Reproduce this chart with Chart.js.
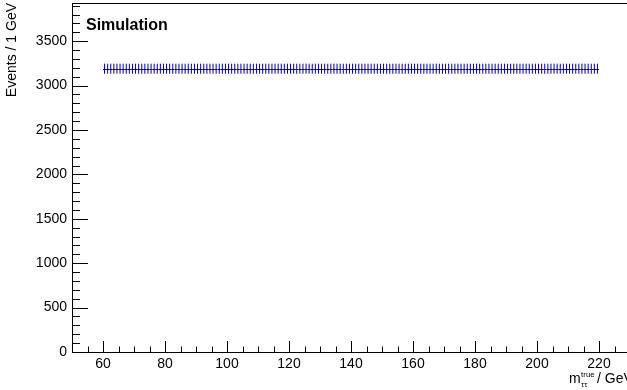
<!DOCTYPE html>
<html>
<head>
<meta charset="utf-8">
<script src="https://cdn.jsdelivr.net/npm/chart.js@4"></script>
<style>
  html, body { margin: 0; padding: 0; background: #fff; overflow: hidden; }
</style>
</head>
<body>
<canvas id="histo" width="640" height="390"></canvas>
<script>
// histogram: 1 GeV bins from 60 to 220 GeV
const binLow = 60;
const binWidth = 1;
const counts = [
  3190, 3190, 3190, 3190, 3190, 3190, 3190, 3190, 3190, 3190, 3190, 3190, 3190, 3190, 3190, 3190, 3190, 3190, 3190, 3190,
  3190, 3190, 3190, 3190, 3190, 3190, 3190, 3190, 3190, 3190, 3190, 3190, 3190, 3190, 3190, 3190, 3190, 3190, 3190, 3190,
  3190, 3190, 3190, 3190, 3190, 3190, 3190, 3190, 3190, 3190, 3190, 3190, 3190, 3190, 3190, 3190, 3190, 3190, 3190, 3190,
  3190, 3190, 3190, 3190, 3190, 3190, 3190, 3190, 3190, 3190, 3190, 3190, 3190, 3190, 3190, 3190, 3190, 3190, 3190, 3190,
  3190, 3190, 3190, 3190, 3190, 3190, 3190, 3190, 3190, 3190, 3190, 3190, 3190, 3190, 3190, 3190, 3190, 3190, 3190, 3190,
  3190, 3190, 3190, 3190, 3190, 3190, 3190, 3190, 3190, 3190, 3190, 3190, 3190, 3190, 3190, 3190, 3190, 3190, 3190, 3190,
  3190, 3190, 3190, 3190, 3190, 3190, 3190, 3190, 3190, 3190, 3190, 3190, 3190, 3190, 3190, 3190, 3190, 3190, 3190, 3190,
  3190, 3190, 3190, 3190, 3190, 3190, 3190, 3190, 3190, 3190, 3190, 3190, 3190, 3190, 3190, 3190, 3190, 3190, 3190, 3190
];
const xTicks = [60, 80, 100, 120, 140, 160, 180, 200, 220];
const yTicks = [0, 500, 1000, 1500, 2000, 2500, 3000, 3500];

const FONT = '"Liberation Sans", Arial, Helvetica, sans-serif';
const markColor = '#000099';

// points at bin centres
const points = counts.map((c, i) => ({ x: binLow + (i + 0.5) * binWidth, y: c }));

// ROOT-like frame, inner ticks, error crosses and labels
const rootStyle = {
  id: 'rootStyle',
  afterDatasetsDraw(chart) {
    const { ctx, chartArea: a, scales: { x, y } } = chart;
    ctx.save();

    // error crosses: horizontal = bin width, vertical = sqrt(N)
    ctx.strokeStyle = markColor;
    ctx.lineWidth = 1;
    ctx.beginPath();
    chart.data.datasets[0].data.forEach(p => {
      const err = Math.sqrt(p.y);
      const yc = Math.round(y.getPixelForValue(p.y)) + 0.5;
      const xc = x.getPixelForValue(p.x);
      ctx.moveTo(x.getPixelForValue(p.x - binWidth / 2), yc);
      ctx.lineTo(x.getPixelForValue(p.x + binWidth / 2), yc);
      ctx.moveTo(xc, y.getPixelForValue(p.y - err));
      ctx.lineTo(xc, y.getPixelForValue(p.y + err));
    });
    ctx.stroke();

    // frame
    ctx.strokeStyle = '#000';
    ctx.strokeRect(a.left + 0.5, a.top + 0.5, a.right - a.left, a.bottom - a.top);

    // ticks
    ctx.beginPath();
    for (let v = 50; v <= 230; v += 5) {
      const px = Math.round(x.getPixelForValue(v)) + 0.5;
      const len = v % 20 === 0 ? 11 : 5.5;
      ctx.moveTo(px, a.bottom);
      ctx.lineTo(px, a.bottom - len);
    }
    for (let v = 0; v <= 3900; v += 100) {
      const py = Math.round(y.getPixelForValue(v)) + 0.5;
      const len = v % 500 === 0 ? 16 : 8;
      ctx.moveTo(a.left, py);
      ctx.lineTo(a.left + len, py);
    }
    ctx.stroke();
    ctx.restore();
  },
  afterDraw(chart) {
    const { ctx } = chart;
    ctx.save();
    ctx.fillStyle = '#000';
    ctx.textBaseline = 'alphabetic';

    ctx.font = 'bold 16px ' + FONT;
    ctx.fillText('Simulation', 86, 30);

    // y title
    ctx.save();
    ctx.translate(16, 3);
    ctx.rotate(-Math.PI / 2);
    ctx.textAlign = 'right';
    ctx.font = '14px ' + FONT;
    ctx.fillText('Events / 1 GeV', 0, 0);
    ctx.restore();

    // x title: m_{ττ}^{true} / GeV
    ctx.textAlign = 'left';
    ctx.font = '14px ' + FONT;
    ctx.fillText('m', 569, 383);
    ctx.font = '8px ' + FONT;
    ctx.fillText('true', 581, 377);
    ctx.fillText('\u03c4\u03c4', 581, 387);
    ctx.font = '14px ' + FONT;
    ctx.fillText('/ GeV', 597, 383);
    ctx.restore();
  }
};

const ctx = document.getElementById('histo').getContext('2d');

var config = {
  type: 'scatter',
  data: {
    datasets: [{
      data: points,
      pointRadius: 0,
      showLine: false
    }]
  },
  options: {
    responsive: false,
    animation: false,
    layout: { padding: { top: 3, right: 10, left: 0, bottom: 0 } },
    plugins: { legend: { display: false }, tooltip: { enabled: false } },
    scales: {
      x: {
        type: 'linear',
        min: 50,
        max: 230,
        afterBuildTicks: s => { s.ticks = xTicks.map(v => ({ value: v })); },
        afterFit: s => { s.height = 38; s.paddingLeft = 0; s.paddingRight = 0; },
        grid: { display: false, drawTicks: false },
        border: { display: false },
        ticks: { color: '#000', font: { family: FONT, size: 14 }, padding: 4, maxRotation: 0, autoSkip: false,
                 callback: v => String(v) }
      },
      y: {
        min: 0,
        max: 3930,
        afterBuildTicks: s => { s.ticks = yTicks.map(v => ({ value: v })); },
        afterFit: s => { s.width = 72; s.paddingTop = 0; s.paddingBottom = 0; },
        grid: { display: false, drawTicks: false },
        border: { display: false },
        ticks: { color: '#000', font: { family: FONT, size: 14 }, padding: 5, autoSkip: false,
                 callback: v => String(v) }
      }
    }
  },
  plugins: [rootStyle]
};

var histo = new Chart(ctx, config);
</script>
</body>
</html>
